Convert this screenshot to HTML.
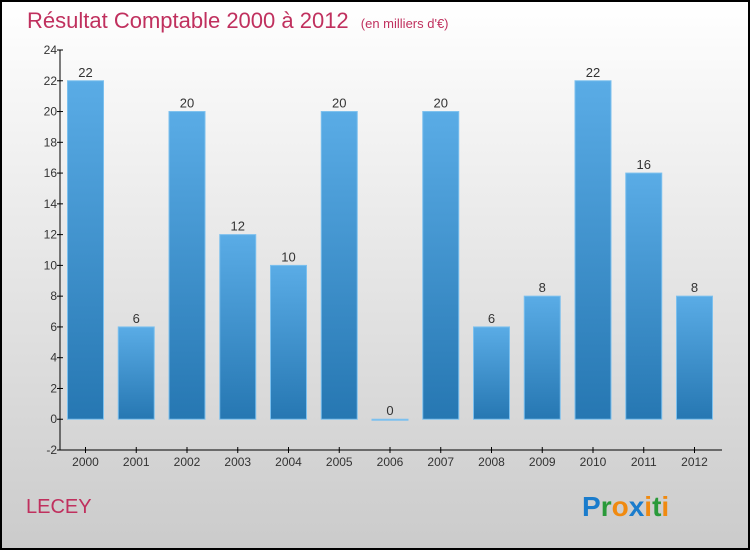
<!DOCTYPE html>
<html><head><meta charset="utf-8"><style>
body{margin:0;width:750px;height:550px;overflow:hidden;font-family:"Liberation Sans",sans-serif}
</style></head><body>
<svg width="750" height="550" xmlns="http://www.w3.org/2000/svg">
<defs>
<linearGradient id="bg" x1="0" y1="0" x2="0" y2="1"><stop offset="0" stop-color="#ffffff"/><stop offset="1" stop-color="#cbcbcb"/></linearGradient>
<linearGradient id="bar" x1="0" y1="0" x2="0" y2="1"><stop offset="0" stop-color="#5aace6"/><stop offset="1" stop-color="#2677b2"/></linearGradient>
</defs>
<rect x="1" y="1" width="748" height="548" fill="url(#bg)" stroke="#000" stroke-width="2"/>
<text x="27" y="28" font-size="22" fill="#c0305e">Résultat Comptable 2000 à 2012 <tspan font-size="13" dx="6">(en milliers d'€)</tspan></text>
<text x="26" y="513" font-size="20" fill="#c0305e">LECEY</text>
<text x="582" y="516" font-size="28" font-weight="bold"><tspan fill="#1a7ccc">P</tspan><tspan fill="#2a9a3a">r</tspan><tspan fill="#f08a10">o</tspan><tspan fill="#1a7ccc">x</tspan><tspan fill="#f08a10">i</tspan><tspan fill="#2a9a3a">t</tspan><tspan fill="#f08a10">i</tspan></text>
<g id="plot"></g>
</svg>
<script>
const categories=["2000","2001","2002","2003","2004","2005","2006","2007","2008","2009","2010","2011","2012"];
const values=[22,6,20,12,10,20,0,20,6,8,22,16,8];
const yTicks=[-2,0,2,4,6,8,10,12,14,16,18,20,22,24];
const NS="http://www.w3.org/2000/svg";
const g=document.getElementById('plot');
const y0=50,y1=450,vmin=-2,vmax=24,xl=60,xr=722;
const ys=v=>y1-(v-vmin)/(vmax-vmin)*(y1-y0);
const step=50.75,bw=36;
const xs=i=>85.5+i*step;
function mk(t,a){const e=document.createElementNS(NS,t);for(const k in a)e.setAttribute(k,a[k]);g.appendChild(e);return e;}
let ax=mk('line',{x1:xl,y1:y0,x2:xl,y2:y1,stroke:'#000'});


let bx=mk('line',{x1:xl,y1:y1,x2:xr,y2:y1,stroke:'#000'});


yTicks.forEach(v=>{
 const y=ys(v);
 mk('line',{x1:xl-3,y1:y,x2:xl+3,y2:y,stroke:'#000'});
 const t=mk('text',{x:xl-3,y:y+4,'font-size':12,'text-anchor':'end',fill:'#333'});
 t.textContent=v;
 
 
});
categories.forEach((c,i)=>{
 const x=xs(i),v=values[i];
 mk('line',{x1:x,y1:y1-3,x2:x,y2:y1+3,stroke:'#000'});
 const t=mk('text',{x:x,y:466,'font-size':12,'text-anchor':'middle',fill:'#333'});
 t.textContent=c;
 
 
 const top=ys(Math.max(v,0)),h=Math.max(Math.abs(ys(v)-ys(0)),1);
 const r=mk('rect',{x:x-bw/2,y:top,width:bw,height:h,fill:'url(#bar)',stroke:'#7cc0ee','stroke-width':1});
 
 
 const l=mk('text',{x:x,y:top-4,'font-size':13,'text-anchor':'middle',fill:'#333'});
 l.textContent=v;
 
 
});
</script>
</body></html>
